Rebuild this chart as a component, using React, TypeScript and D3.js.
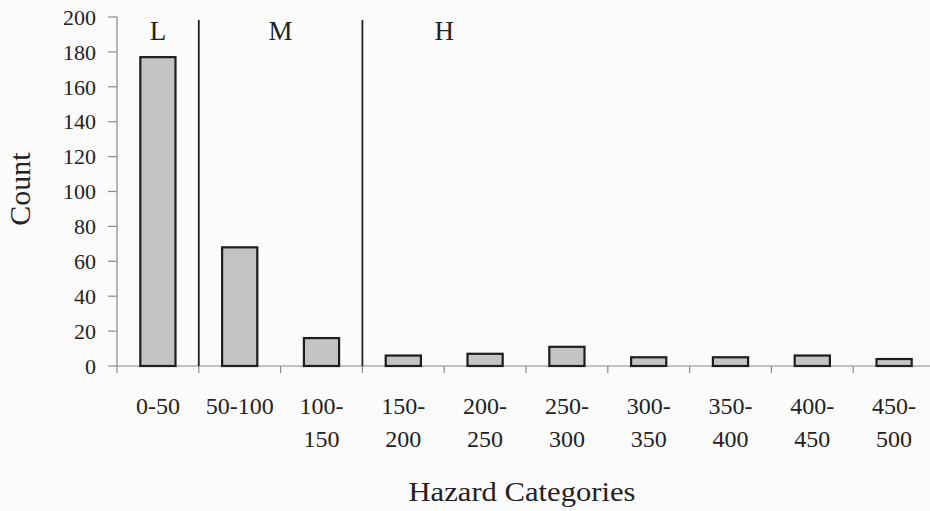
import React from "react";
import * as d3 from "d3";

const categories = ["0-50", "50-100", "100-150", "150-200", "200-250", "250-300", "300-350", "350-400", "400-450", "450-500"];
const counts = [177, 68, 16, 6, 7, 11, 5, 5, 6, 4];
const tickLabels: string[][] = [["0-50"], ["50-100"], ["100-", "150"], ["150-", "200"], ["200-", "250"], ["250-", "300"], ["300-", "350"], ["350-", "400"], ["400-", "450"], ["450-", "500"]];
const yTicks = [0, 20, 40, 60, 80, 100, 120, 140, 160, 180, 200];
const zones = [
  { label: "L", from: 0, to: 1, labelAt: 0.5 },
  { label: "M", from: 1, to: 3, labelAt: 2.0 },
  { label: "H", from: 3, to: 10, labelAt: 4.0 },
];

const W = 930;
const H = 511;
const FONT = "'Liberation Serif', 'Times New Roman', Times, serif";
const txt = { fontFamily: FONT };

export default function App() {
  const x = d3.scaleBand<string>().domain(categories).range([117, 935]).paddingInner(0.57).paddingOuter(0.285);
  const y = d3.scaleLinear().domain([0, 200]).range([366, 17]);
  const step = x.step();
  const x0 = x.range()[0];
  const boundary = (i: number) => x0 + i * step;

  return (
    <svg width={W} height={H} style={{ position: "absolute", left: 0, top: 0, background: "#fbfbfb" }}>
      {/* y axis */}
      <line x1={117} x2={117} y1={y(200)} y2={y(0)} stroke="#8a8a8a" strokeWidth={1.2} />
      {yTicks.map((t) => (
        <g key={t}>
          <line x1={108} x2={117} y1={y(t)} y2={y(t)} stroke="#8a8a8a" strokeWidth={1.2} />
          <text x={96} y={y(t)} dy="0.35em" textAnchor="end" fontSize={22} fill="#222" style={txt}>
            {t}
          </text>
        </g>
      ))}
      {/* x axis */}
      <line x1={117} x2={W} y1={y(0)} y2={y(0)} stroke="#8a8a8a" strokeWidth={1.2} />
      {d3.range(categories.length + 1).map((i) => (
        <line key={i} x1={boundary(i)} x2={boundary(i)} y1={y(0)} y2={y(0) + 7} stroke="#8a8a8a" strokeWidth={1.2} />
      ))}
      {/* zone dividers */}
      {zones.slice(1).map((z) => (
        <line key={z.label} x1={boundary(z.from)} x2={boundary(z.from)} y1={20} y2={y(0)} stroke="#222" strokeWidth={1.8} />
      ))}
      {zones.map((z) => (
        <text key={z.label} x={boundary(z.labelAt)} y={40} textAnchor="middle" fontSize={27} fill="#222" style={txt}>
          {z.label}
        </text>
      ))}
      {/* bars */}
      {categories.map((c, i) => (
        <rect key={c} x={x(c)} y={y(counts[i])} width={x.bandwidth()} height={y(0) - y(counts[i])} fill="#c4c4c4" stroke="#1e1e1e" strokeWidth={2.2} />
      ))}
      {/* x tick labels */}
      {categories.map((c, i) => (
        <text key={c} x={(x(c) as number) + x.bandwidth() / 2} y={414} textAnchor="middle" fontSize={24} fill="#222" style={txt}>
          {tickLabels[i].map((ln, j) => (
            <tspan key={j} x={(x(c) as number) + x.bandwidth() / 2} dy={j === 0 ? 0 : 33}>
              {ln}
            </tspan>
          ))}
        </text>
      ))}
      {/* axis titles */}
      <text x={522} y={501} textAnchor="middle" fontSize={27} fill="#222" textLength={227} lengthAdjust="spacingAndGlyphs" style={txt}>
        Hazard Categories
      </text>
      <text transform="translate(30,189) rotate(-90)" textAnchor="middle" fontSize={30} fill="#222" style={txt}>
        Count
      </text>
    </svg>
  );
}
